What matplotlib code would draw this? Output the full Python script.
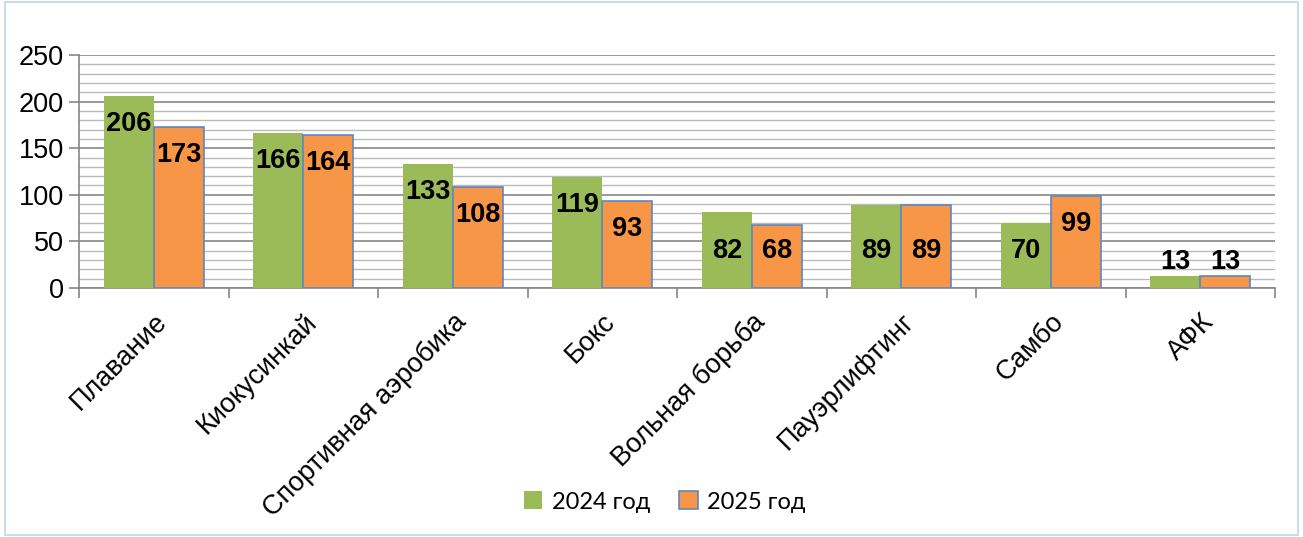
import numpy as np
import matplotlib.pyplot as plt
from matplotlib.patches import Rectangle

sports = ['Плавание', 'Киокусинкай', 'Спортивная аэробика', 'Бокс',
          'Вольная борьба', 'Пауэрлифтинг', 'Самбо', 'АФК']
y2024 = [206, 166, 133, 119, 82, 89, 70, 13]
y2025 = [173, 164, 108, 93, 68, 89, 99, 13]

green = '#9BBB59'
orange = '#F79646'

plt.rcParams['font.family'] = ['Liberation Sans', 'DejaVu Sans']

fig = plt.figure(figsize=(13.03, 5.37), dpi=100)
# рамка вокруг всей диаграммы
fig.patches.append(Rectangle((0.004, 0.004), 0.992, 0.992, transform=fig.transFigure,
                             fill=False, edgecolor='#BDD7EE', lw=1.2))
ax = fig.add_axes([79 / 1303, 1 - 288 / 537, (1275 - 79) / 1303, (288 - 55) / 537])

x = np.arange(len(sports))
w = 1 / 3
ax.bar(x - w / 2, y2024, w, color=green, edgecolor='none', label='2024 год', zorder=3)
ax.bar(x + w / 2, y2025, w, color=orange, edgecolor='#5B87C4', lw=1.2, label='2025 год', zorder=3)

def label_y(v):
    if v < 20:
        return v + 15
    if v < 91:
        return 40
    return v - 30

for xi, a, b in zip(x, y2024, y2025):
    ax.text(xi - w / 2, label_y(a), str(a), ha='center', va='center',
            fontsize=19.5, fontweight='bold', zorder=4)
    ax.text(xi + w / 2, label_y(b), str(b), ha='center', va='center',
            fontsize=19.5, fontweight='bold', zorder=4)

ax.set_xlim(-0.5, len(sports) - 0.5)
ax.set_ylim(0, 250)
ax.set_yticks(np.arange(0, 251, 50))
ax.set_yticks(np.arange(0, 251, 10), minor=True)
ax.grid(axis='y', which='major', color='#868686', lw=1.2, zorder=0)
ax.grid(axis='y', which='minor', color='#BBBBBB', lw=1.0, zorder=0)
ax.tick_params(axis='y', which='major', labelsize=19.5, length=7, color='#868686', width=1.2, pad=4)
ax.tick_params(axis='y', which='minor', length=0)

ax.set_xticks(np.arange(-0.5, len(sports), 1))
ax.set_xticklabels([])
ax.tick_params(axis='x', which='major', length=7, color='#868686', width=1.2)
ax.set_xticks(x, minor=True)
ax.set_xticklabels(sports, minor=True, rotation=45, ha='right', va='top',
                   rotation_mode='anchor', fontsize=19.5)
ax.tick_params(axis='x', which='minor', length=0, pad=15)

for s in ['top', 'right']:
    ax.spines[s].set_visible(False)
for s in ['left', 'bottom']:
    ax.spines[s].set_color('#868686')
    ax.spines[s].set_linewidth(1.2)

fig.legend(loc='center', bbox_to_anchor=(0.51, 1 - 502 / 537), ncol=2, frameon=False,
           prop={'family': 'Lato', 'size': 17}, handlelength=0.8, handleheight=0.8,
           columnspacing=1.2, handletextpad=0.4)

fig.savefig('out.png', dpi=100)
